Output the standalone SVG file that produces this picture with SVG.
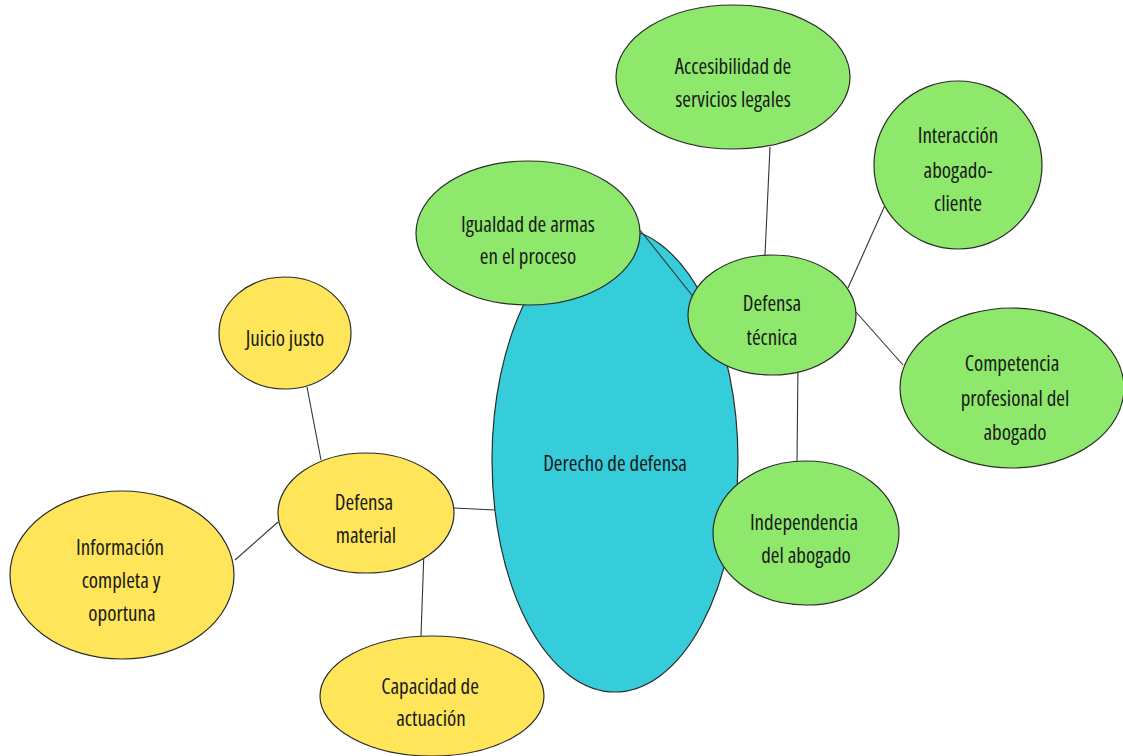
<svg xmlns="http://www.w3.org/2000/svg" width="1123" height="756" viewBox="0 0 1123 756">
<style>
.n{stroke:#2b2b2b;stroke-width:1.2}
.g{fill:#8de86b}
.y{fill:#ffe55a}
.c{fill:#36cddb}
.e{stroke:#333;stroke-width:1.1;fill:none}
text{font-family:"Open Sans","Liberation Sans Narrow","DejaVu Sans Condensed",sans-serif;font-stretch:condensed;font-size:21px;fill:#1a1a1a;text-anchor:middle;dominant-baseline:central}
</style>
<rect width="1123" height="756" fill="#fff"/>
<g id="central"><ellipse class="n c" cx="615" cy="460" rx="123" ry="232"/><text x="615" y="463">Derecho de defensa</text></g>
<g id="connectors">
<line class="e" x1="454" y1="508" x2="495" y2="510"/>
<line class="e" x1="307" y1="387" x2="321" y2="460"/>
<line class="e" x1="235" y1="560" x2="278" y2="522"/>
<line class="e" x1="424" y1="550" x2="421" y2="636"/>
<line class="e" x1="640" y1="230" x2="695" y2="299"/>
<line class="e" x1="770" y1="147" x2="765" y2="255"/>
<line class="e" x1="890" y1="194" x2="848" y2="288"/>
<line class="e" x1="856" y1="312" x2="903" y2="365"/>
<line class="e" x1="798" y1="363" x2="797" y2="462"/>
</g>
<g id="igualdad"><ellipse class="n g" cx="528" cy="233" rx="112" ry="72"/><text x="528" y="224">Igualdad de armas</text><text x="528" y="256">en el proceso</text></g>
<g id="tecnica"><ellipse class="n g" cx="772" cy="315" rx="84" ry="60"/><text x="772" y="303">Defensa</text><text x="772" y="337">técnica</text></g>
<g id="accesibilidad"><ellipse class="n g" cx="733" cy="77" rx="117" ry="72"/><text x="733" y="66">Accesibilidad de</text><text x="733" y="99">servicios legales</text></g>
<g id="interaccion"><ellipse class="n g" cx="958" cy="165" rx="84" ry="84"/><text x="958" y="135">Interacción</text><text x="958" y="170">abogado-</text><text x="958" y="203">cliente</text></g>
<g id="competencia"><ellipse class="n g" cx="1012" cy="388" rx="112" ry="80"/><text x="1012" y="363">Competencia</text><text x="1015" y="398">profesional del</text><text x="1015" y="432">abogado</text></g>
<g id="independencia"><ellipse class="n g" cx="806" cy="533" rx="93" ry="72"/><text x="804" y="522">Independencia</text><text x="806" y="555">del abogado</text></g>
<g id="material"><ellipse class="n y" cx="366" cy="513" rx="88" ry="60"/><text x="364" y="502">Defensa</text><text x="366" y="535">material</text></g>
<g id="juicio"><ellipse class="n y" cx="285" cy="333" rx="66" ry="56"/><text x="285" y="338">Juicio justo</text></g>
<g id="informacion"><ellipse class="n y" cx="122" cy="575" rx="112" ry="84"/><text x="120" y="547">Información</text><text x="121" y="580">completa y</text><text x="122" y="613">oportuna</text></g>
<g id="capacidad"><ellipse class="n y" cx="432" cy="696" rx="112" ry="60"/><text x="430" y="686">Capacidad de</text><text x="431" y="718">actuación</text></g>
</svg>
